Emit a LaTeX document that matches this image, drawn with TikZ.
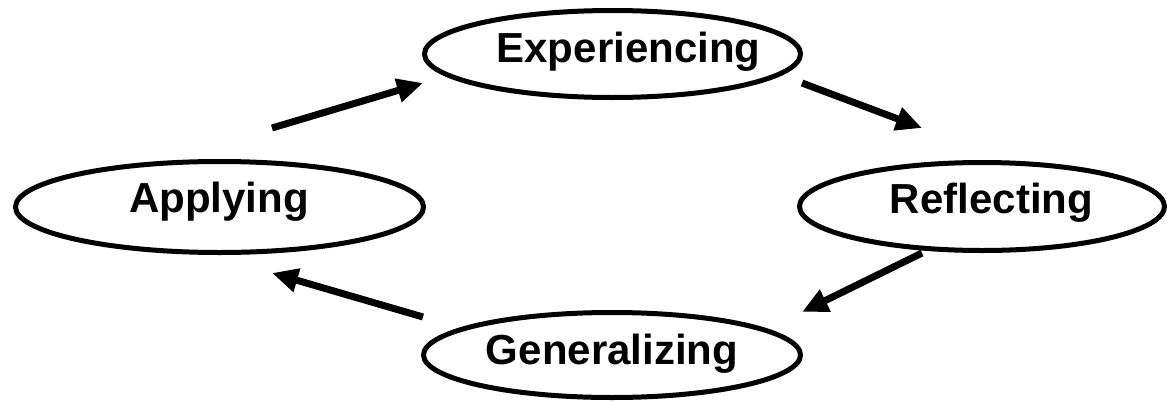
\documentclass[tikz,border=0pt]{standalone}
\usepackage{fontspec}
\setmainfont{Liberation Sans}
\usetikzlibrary{shapes.geometric,arrows.meta}
\tikzset{
  stage/.style={draw=black,line width=5pt,ellipse,inner sep=0pt,fill=white},
  stagetext/.style={anchor=base,inner sep=0pt,font=\fontsize{42}{42}\selectfont\bfseries},
  cyclearrow/.style={line width=7pt,-{Triangle[length=26pt,width=23pt]}}
}
\begin{document}
\begin{tikzpicture}[x=1pt,y=-1pt]
\useasboundingbox (0,0) rectangle (1167,402);
% stages
\node[stage,minimum width=376pt,minimum height=87pt] (exp) at (612.5,54) {};
\node[stage,minimum width=408pt,minimum height=91pt] (app) at (219.5,207) {};
\node[stage,minimum width=377pt,minimum height=85pt] (gen) at (612,355) {};
\node[stage,minimum width=365pt,minimum height=88pt] (ref) at (982,206.5) {};
% labels
\node[stagetext] (expt) at (628.5,62) {Experiencing};
\node[stagetext] (appt) at (219,212) {Applying};
\node[stagetext] (gent) at (612,364) {Generalizing};
\node[stagetext] (reft) at (991.5,213) {Reflecting};
% arrow ends
\coordinate (a1s) at (272,128); \coordinate (a1e) at (423,83);
\coordinate (a2s) at (802,83);  \coordinate (a2e) at (922,128);
\coordinate (a3s) at (922,253); \coordinate (a3e) at (802,312);
\coordinate (a4s) at (423,317); \coordinate (a4e) at (272,273);
\draw[cyclearrow] (a1s) -- (a1e);
\draw[cyclearrow] (a2s) -- (a2e);
\draw[cyclearrow] (a3s) -- (a3e);
\draw[cyclearrow] (a4s) -- (a4e);
\end{tikzpicture}
\end{document}
